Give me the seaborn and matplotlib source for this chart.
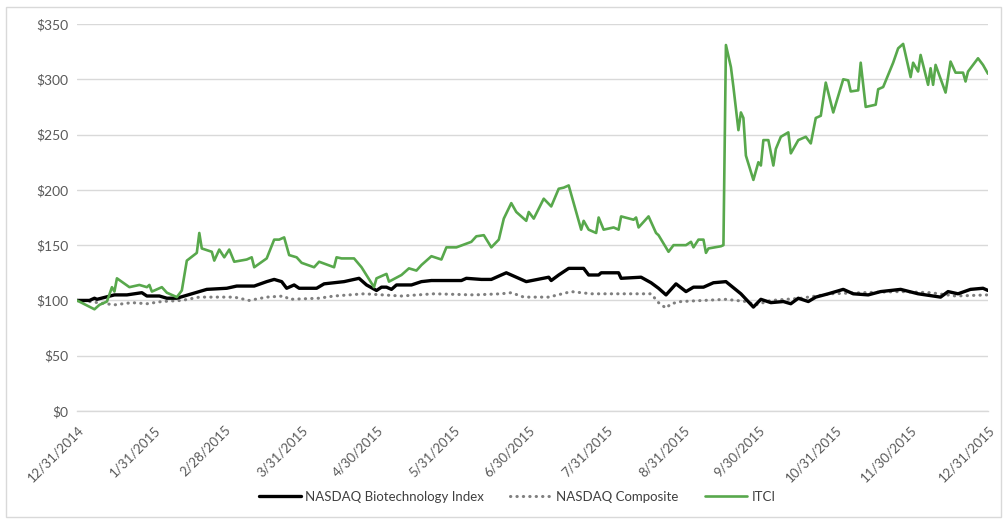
import matplotlib
matplotlib.use("Agg")
import matplotlib.pyplot as plt
import seaborn as sns
import pandas as pd
from matplotlib.patches import Rectangle

# ---- data (days since 12/31/2014, indexed value $) ----
START = "2014-12-31"

itci_day = [0, 7, 9, 12, 14, 15, 16, 21, 25, 28, 29, 30, 34, 36, 40, 42, 44, 48, 49, 50,
            54, 55, 57, 59, 61, 63, 68, 70, 71, 76, 79, 81, 83, 85, 88, 90, 95, 97, 103, 104,
            106, 111, 114, 119, 120, 124, 125, 130, 133, 136, 138, 142, 146, 148, 152, 158, 160, 163, 166, 169,
            171, 174, 176, 180, 181, 183, 187, 190, 193, 195, 197, 199, 202, 203, 205, 208, 209, 211, 215, 217,
            218, 223, 224, 225, 229, 232, 233, 237, 239, 244, 246, 247, 249, 251, 252, 253, 258, 259, 260, 262,
            263, 265, 266, 267, 268, 271, 273, 274, 275, 277, 279, 280, 282, 285, 286, 289, 292, 294, 296, 298,
            300, 303, 307, 309, 310, 313, 314, 316, 320, 321, 323, 327, 329, 331, 334, 335, 337, 338, 341, 342,
            343, 344, 348, 350, 352, 355, 356, 357, 361, 363, 365]
itci_val = [100, 92, 96, 99, 112, 108, 120, 112, 114, 112, 114, 108, 112, 107, 103, 109, 136, 143, 161, 147,
            144, 136, 146, 139, 146, 135, 137, 139, 130, 138, 155, 155, 157, 141, 139, 134, 130, 135, 130, 139,
            138, 138, 130, 112, 120, 124, 117, 123, 129, 127, 132, 140, 137, 148, 148, 153, 158, 159, 148, 155,
            174, 188, 180, 172, 180, 174, 192, 185, 201, 202, 204, 188, 164, 172, 164, 161, 175, 164, 166, 164,
            176, 173, 175, 166, 176, 161, 159, 144, 150, 150, 153, 148, 155, 155, 143, 147, 149, 150, 331, 311,
            293, 254, 270, 265, 231, 209, 225, 222, 245, 245, 222, 237, 248, 252, 233, 245, 248, 242, 265, 267,
            297, 270, 300, 299, 289, 290, 315, 275, 277, 291, 293, 315, 328, 332, 302, 315, 307, 322, 295, 310,
            295, 313, 288, 316, 306, 306, 298, 307, 319, 313, 305]

nbi_day = [0, 5, 7, 8, 15, 20, 26, 28, 33, 36, 40, 49, 52, 60, 64, 71, 76, 79, 82, 84,
           87, 89, 96, 99, 107, 113, 116, 120, 122, 124, 126, 128, 134, 138, 142, 147, 154, 156, 162, 166,
           170, 172, 180, 189, 190, 193, 197, 203, 205, 209, 210, 217, 218, 226, 230, 233, 236, 240, 244, 247,
           251, 255, 260, 266, 271, 274, 278, 283, 286, 289, 293, 296, 301, 307, 311, 317, 322, 330, 337, 346,
           349, 353, 358, 363, 365]
nbi_val = [100, 100, 102, 101, 105, 105, 107, 104, 104, 102, 102, 108, 110, 111, 113, 113, 117, 119, 117, 111,
           114, 111, 111, 115, 117, 120, 114, 109, 112, 112, 110, 114, 114, 117, 118, 118, 118, 120, 119, 119,
           123, 125, 117, 121, 118, 123, 129, 129, 123, 123, 125, 125, 120, 121, 116, 111, 105, 115, 108, 112,
           112, 116, 117, 106, 94, 101, 98, 99, 97, 102, 99, 103, 106, 110, 106, 105, 108, 110, 106, 103,
           108, 106, 110, 111, 109]

comp_day = [0, 5, 15, 22, 28, 34, 42, 49, 63, 69, 76, 83, 85, 97, 103, 115, 130, 143, 159, 170,
            174, 179, 189, 198, 206, 230, 233, 236, 238, 242, 260, 268, 272, 278, 290, 302, 314, 330, 342, 352,
            365]
comp_val = [100, 99, 96, 98, 97, 99, 100, 103, 103, 100, 103, 104, 101, 102, 104, 106, 104, 106, 105, 106,
            107, 103, 103, 108, 106, 106, 98, 93, 97, 99, 101, 99, 96, 100, 102, 106, 107, 108, 107, 104,
            105]

tick_dates = ["2014-12-31", "2015-01-31", "2015-02-28", "2015-03-31", "2015-04-30", "2015-05-31",
              "2015-06-30", "2015-07-31", "2015-08-31", "2015-09-30", "2015-10-31", "2015-11-30",
              "2015-12-31"]
tick_labels = ["12/31/2014", "1/31/2015", "2/28/2015", "3/31/2015", "4/30/2015", "5/31/2015",
               "6/30/2015", "7/31/2015", "8/31/2015", "9/30/2015", "10/31/2015", "11/30/2015",
               "12/31/2015"]
y_ticks = [0, 50, 100, 150, 200, 250, 300, 350]

# ---- build frames ----
start = pd.Timestamp(START)
def frame(days, vals):
    return pd.DataFrame({"date": start + pd.to_timedelta(days, unit="D"), "value": vals})

df_nbi = frame(nbi_day, nbi_val)
df_comp = frame(comp_day, comp_val)
df_itci = frame(itci_day, itci_val)

sns.set_style("white")
plt.rcParams["font.family"] = ["Lato", "DejaVu Sans"]

fig = plt.figure(figsize=(10.08, 5.21), dpi=100)
ax = fig.add_axes([77 / 1008, 1 - 411 / 521, (988 - 77) / 1008, (411 - 24) / 521])

fig.patches.append(Rectangle((6 / 1008, 4 / 521), 995 / 1008, 510 / 521,
                             transform=fig.transFigure, fill=False,
                             edgecolor="#d9d9d9", linewidth=1.0))

gray = "#7f7f7f"
green = "#58a84c"
sns.lineplot(data=df_comp, x="date", y="value", ax=ax, color=gray, linewidth=2.2,
             linestyle=(0, (0.1, 2.0)), dash_capstyle="round", label="NASDAQ Composite", zorder=2)
sns.lineplot(data=df_nbi, x="date", y="value", ax=ax, color="#000000", linewidth=2.4,
             label="NASDAQ Biotechnology Index", zorder=3)
sns.lineplot(data=df_itci, x="date", y="value", ax=ax, color=green, linewidth=1.9,
             label="ITCI", zorder=4)

ax.set_xlim(pd.Timestamp(tick_dates[0]), pd.Timestamp(tick_dates[-1]))
ax.set_ylim(0, 350)
ax.set_yticks(y_ticks)
ax.set_yticklabels([f"${v}" for v in y_ticks], color="#595959", fontsize=10)
ax.set_xticks([pd.Timestamp(d) for d in tick_dates])
ax.set_xticklabels(tick_labels, rotation=45, ha="right", rotation_mode="anchor",
                   color="#595959", fontsize=9.5)
ax.tick_params(axis="y", length=0, pad=6)
ax.tick_params(axis="x", length=4, width=1.0, color="#d9d9d9", direction="out", pad=5)
ax.set_xlabel("")
ax.set_ylabel("")
ax.grid(axis="y", color="#d9d9d9", linewidth=1.0)
ax.grid(axis="x", visible=False)
for s in ["top", "right", "left"]:
    ax.spines[s].set_visible(False)
ax.spines["bottom"].set_color("#d9d9d9")
ax.spines["bottom"].set_linewidth(1.0)

handles, labels = ax.get_legend_handles_labels()
order = [labels.index("NASDAQ Biotechnology Index"), labels.index("NASDAQ Composite"), labels.index("ITCI")]
ax.legend([handles[i] for i in order], [labels[i] for i in order],
          loc="center", bbox_to_anchor=(517 / 1008, 1 - 497 / 521), bbox_transform=fig.transFigure,
          ncol=3, frameon=False, fontsize=9.5, handlelength=3.2, columnspacing=2.0,
          handletextpad=0.3, labelcolor="#404040")

fig.savefig("out.png", dpi=100, facecolor="white")
